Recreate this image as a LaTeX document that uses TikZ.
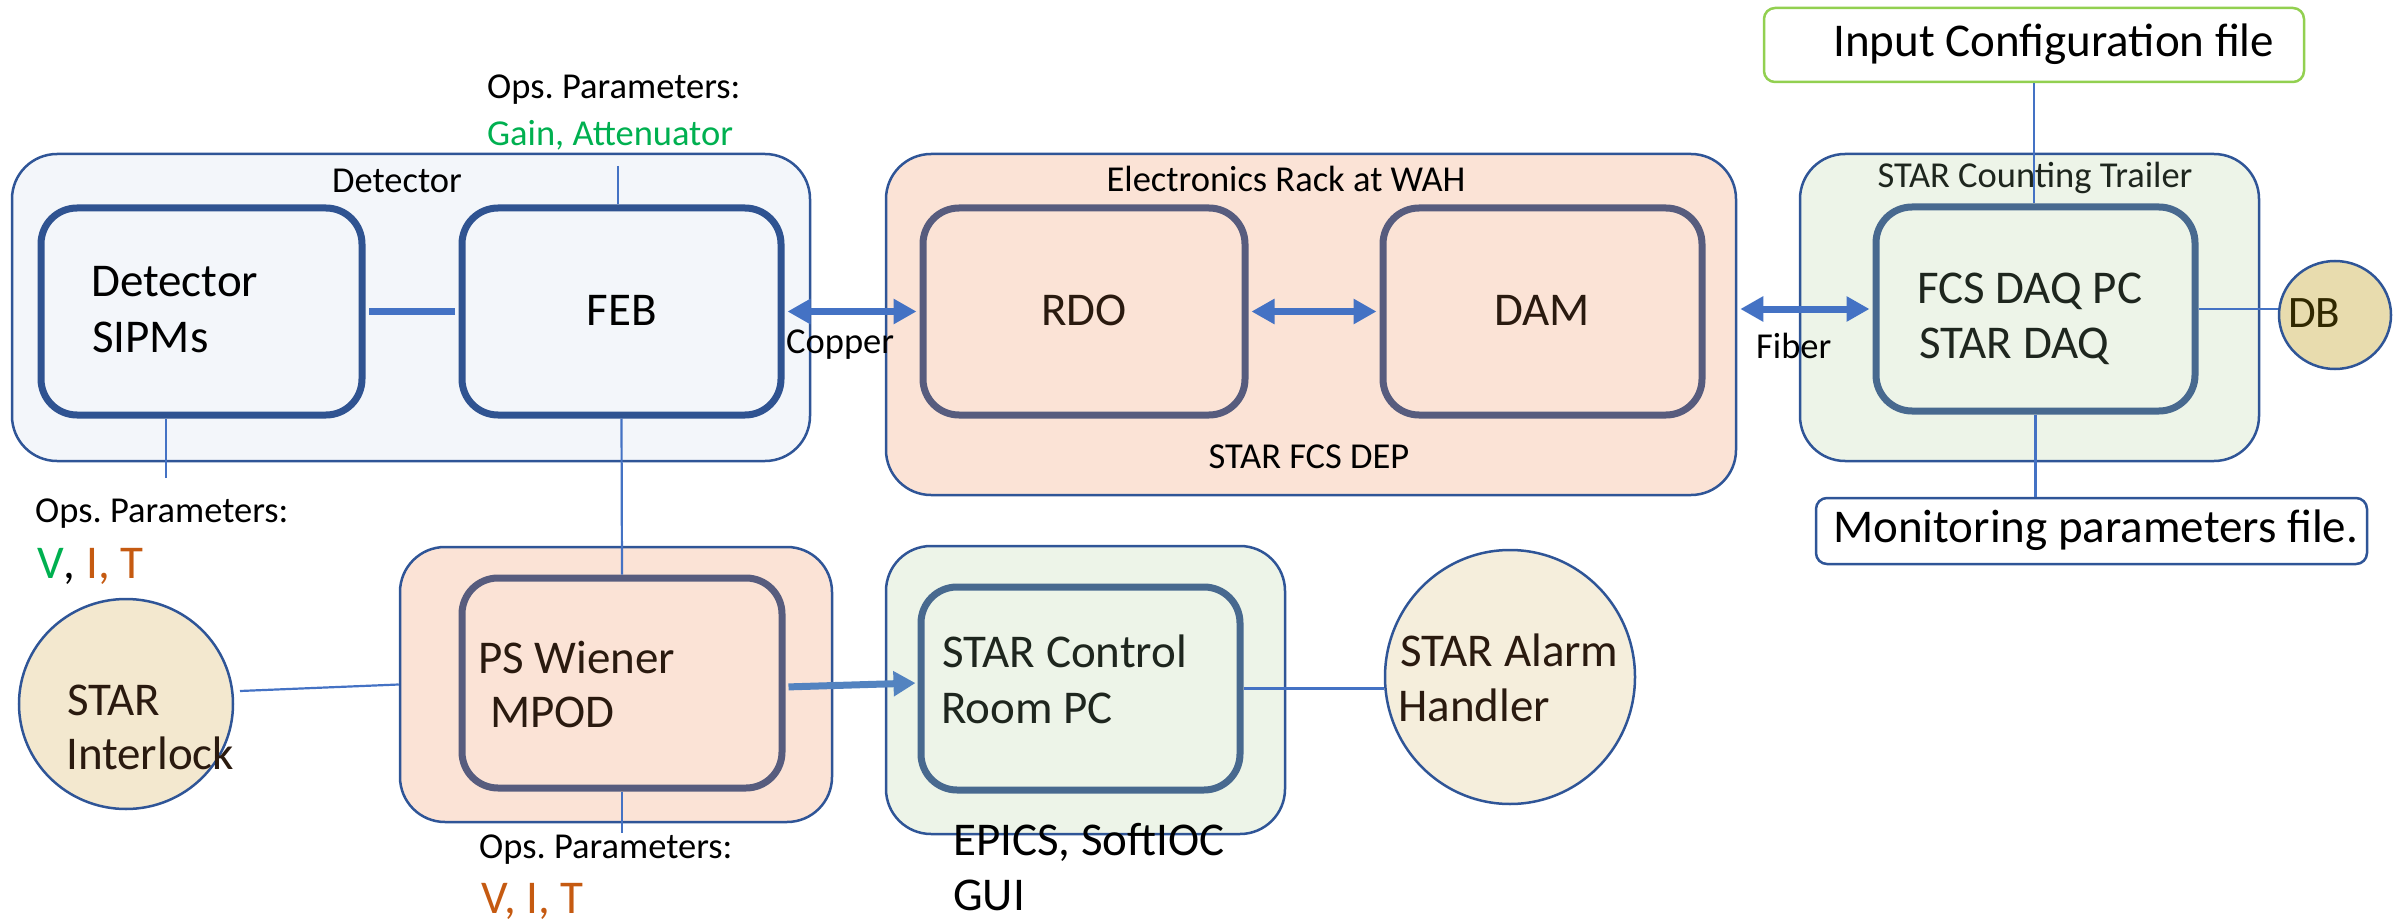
\documentclass[tikz,border=0pt]{standalone}
\usepackage{fontspec}
\setmainfont{Carlito}
\usetikzlibrary{arrows.meta,calc,shapes.geometric}
\definecolor{bordblue}{HTML}{2F5597}
\definecolor{fillblue}{HTML}{F3F6FA}
\definecolor{innerblue}{HTML}{2F5391}
\definecolor{peach}{HTML}{FBE3D6}
\definecolor{rackinner}{HTML}{575C7E}
\definecolor{lgreen}{HTML}{EDF4E8}
\definecolor{greeninner}{HTML}{48698F}
\definecolor{conn}{HTML}{4472C4}
\definecolor{conn2}{HTML}{5383C0}
\definecolor{ilockfill}{HTML}{F3E8CF}
\definecolor{alarmfill}{HTML}{F5EEDC}
\definecolor{dbfill}{HTML}{E8DCAE}
\definecolor{cfgborder}{HTML}{92D050}
\definecolor{gtext}{HTML}{00B050}
\definecolor{otext}{HTML}{C55A11}
\definecolor{browntext}{HTML}{2A1A0F}
\definecolor{greentext}{HTML}{1E261E}
\definecolor{dbtext}{HTML}{302800}
\frenchspacing
\begin{document}
\frenchspacing
\begin{tikzpicture}[x=1pt,y=-1pt,
  outerbox/.style={draw=bordblue, line width=2.5pt, rounded corners=45pt, inner sep=0pt},
  innerbox/.style={line width=7pt, rounded corners=36pt, inner sep=0pt},
  filebox/.style={line width=2.5pt, rounded corners=11pt, inner sep=0pt, fill=white},
  oval/.style={ellipse, draw=bordblue, line width=2.5pt, inner sep=0pt},
  thinc/.style={draw=conn, line width=2.2pt},
  thickc/.style={draw=conn, line width=7pt},
  dblarrow/.style={draw=conn, line width=7pt, {Triangle[width=24pt,length=23pt]}-{Triangle[width=24pt,length=23pt]}, shorten <=3pt, shorten >=3pt},
  bigtxt/.style={font=\fontsize{47}{56}\selectfont, inner sep=0pt, anchor=base west},
  smalltxt/.style={font=\fontsize{36.5}{44}\selectfont, inner sep=0pt, anchor=base west}]
\useasboundingbox (0,0) rectangle (2394,920);

% ---- container boxes
\node[outerbox, fill=fillblue, minimum width=798pt, minimum height=307pt] (det) at (411,307.5) {};
\node[outerbox, fill=peach, minimum width=850pt, minimum height=341pt] (rack) at (1311,324.5) {};
\node[outerbox, fill=lgreen, minimum width=459pt, minimum height=307pt] (trl) at (2029.5,307.5) {};
\node[outerbox, fill=peach, minimum width=432pt, minimum height=275pt] (psout) at (616,684.5) {};
\node[outerbox, fill=lgreen, minimum width=399pt, minimum height=288pt] (ctlout) at (1085.5,690) {};

% ---- inner boxes
\node[innerbox, draw=innerblue, fill=fillblue, minimum width=321pt, minimum height=207pt] (sipm) at (201.5,311.5) {};
\node[innerbox, draw=innerblue, fill=fillblue, minimum width=319pt, minimum height=207pt] (feb) at (621.5,311.5) {};
\node[innerbox, draw=rackinner, fill=peach, minimum width=322pt, minimum height=207pt] (rdo) at (1084,311.5) {};
\node[innerbox, draw=rackinner, fill=peach, minimum width=319pt, minimum height=207pt] (dam) at (1542.5,311.5) {};
\node[innerbox, draw=greeninner, fill=lgreen, minimum width=319pt, minimum height=204pt] (fcs) at (2035.5,309) {};
\node[innerbox, draw=rackinner, fill=peach, minimum width=320pt, minimum height=210pt] (psin) at (622,683) {};
\node[innerbox, draw=greeninner, fill=lgreen, minimum width=319pt, minimum height=203pt] (ctlin) at (1080.5,688.5) {};

% ---- files and ovals
\node[filebox, draw=cfgborder, minimum width=540pt, minimum height=74pt] (cfg) at (2034,45) {};
\node[filebox, draw=bordblue, minimum width=551pt, minimum height=66pt] (mon) at (2091.5,531) {};
\node[oval, fill=dbfill, minimum width=112pt, minimum height=108pt] (db) at (2335,315) {};
\node[oval, fill=ilockfill, minimum width=214pt, minimum height=210pt] (ilock) at (126,704) {};
\node[oval, fill=alarmfill, minimum width=250pt, minimum height=254pt] (alarm) at (1510,677) {};

% ---- free ends
\coordinate (opsTopEnd) at (618,166);
\coordinate (sipmOpsEnd) at (166,478);
\coordinate (psOpsEnd) at (622,833);
\coordinate (ilockEnd) at (240,691);

% ---- connectors
\draw[thickc, shorten <=3.5pt, shorten >=3.5pt] (sipm.east) -- (feb.west);
\draw[thinc] (opsTopEnd) -- (opsTopEnd |- feb.north);
\draw[thinc] (sipmOpsEnd) -- (sipmOpsEnd |- sipm.south);
\draw[thinc] (feb.south) -- (psin.north);
\draw[thinc] (psin.south) -- (psOpsEnd);
\draw[thinc] (ilockEnd) -- (psout.west);
\draw[dblarrow] (feb.east) -- (rdo.west);
\draw[dblarrow] (rdo.east) -- (dam.west);
\draw[dblarrow] (rack.east |- fcs.west) -- (fcs.west);
\draw[thinc] (cfg.south) -- (cfg.south |- fcs.north);
\draw[thinc] (fcs.south) -- (fcs.south |- mon.north);
\draw[thinc] (fcs.east) -- (db.west |- fcs.east);
\draw[draw=conn2, line width=7pt, -{Triangle[width=24pt,length=22pt]}, shorten <=3pt, shorten >=2pt]
  ($(psin.east)+(0,4)$) -- ($(ctlin.west)+(0,-5.5)$);
\draw[thinc] (ctlin.east) -- (alarm.west |- ctlin.east);

% ---- texts
\node[smalltxt] (tOpsTop1) at (487,99) {Ops. Parameters:};
\node[smalltxt, text=gtext] (tOpsTop2) at (487,146) {Gain, Attenuator};
\node[smalltxt, anchor=base] (tDetLbl) at (397,193) {Detector};
\node[bigtxt] (tSipm1) at (91,296) {Detector};
\node[bigtxt] (tSipm2) at (92,352) {SIPMs};
\node[bigtxt, anchor=base] (tFeb) at (622,325) {FEB};
\node[smalltxt] (tCopper) at (786,353) {Copper};
\node[smalltxt, anchor=base] (tRack) at (1286,192) {Electronics Rack at WAH};
\node[bigtxt, anchor=base, text=browntext] (tRdo) at (1084,325) {RDO};
\node[bigtxt, anchor=base, text=browntext] (tDam) at (1542,325) {DAM};
\node[smalltxt, anchor=base] (tDep) at (1309,468) {STAR FCS DEP};
\node[smalltxt, anchor=base, text=greentext] (tTrl) at (2035,188) {STAR Counting Trailer};
\node[bigtxt, text=greentext] (tFcs1) at (1917,303) {FCS DAQ PC};
\node[bigtxt, text=greentext] (tFcs2) at (1919,358) {STAR DAQ};
\node[smalltxt] (tFiber) at (1756,358) {Fiber};
\node[bigtxt] (tCfg) at (1833,57) {Input Configuration file};
\node[bigtxt] (tMon) at (1833,542) {Monitoring parameters file.};
\node[bigtxt, font=\fontsize{45}{54}\selectfont, text=dbtext] (tDb) at (2288,327) {DB};
\node[smalltxt] (tOpsL1) at (35,522) {Ops. Parameters:};
\node[bigtxt] (tOpsL2) at (37,578) {\textcolor{gtext}{V}, \textcolor{otext}{I, T}};
\node[bigtxt, text=browntext] (tIl1) at (67,715) {STAR};
\node[bigtxt, text=browntext] (tIl2) at (66,769) {Interlock};
\node[bigtxt, text=browntext] (tPs1) at (478,673) {PS Wiener};
\node[bigtxt, text=browntext] (tPs2) at (490,727) {MPOD};
\node[smalltxt] (tOpsB1) at (479,858) {Ops. Parameters:};
\node[bigtxt, text=otext] (tOpsB2) at (481,913) {V, I, T};
\node[bigtxt, text=greentext] (tCtl1) at (942,667) {STAR Control};
\node[bigtxt, text=greentext] (tCtl2) at (941,723) {Room PC};
\node[bigtxt] (tEp1) at (953,855) {EPICS, SoftIOC};
\node[bigtxt] (tEp2) at (953,910) {GUI};
\node[bigtxt, text=browntext] (tAl1) at (1400,666) {STAR Alarm};
\node[bigtxt, text=browntext] (tAl2) at (1398,721) {Handler};
\end{tikzpicture}
\end{document}
